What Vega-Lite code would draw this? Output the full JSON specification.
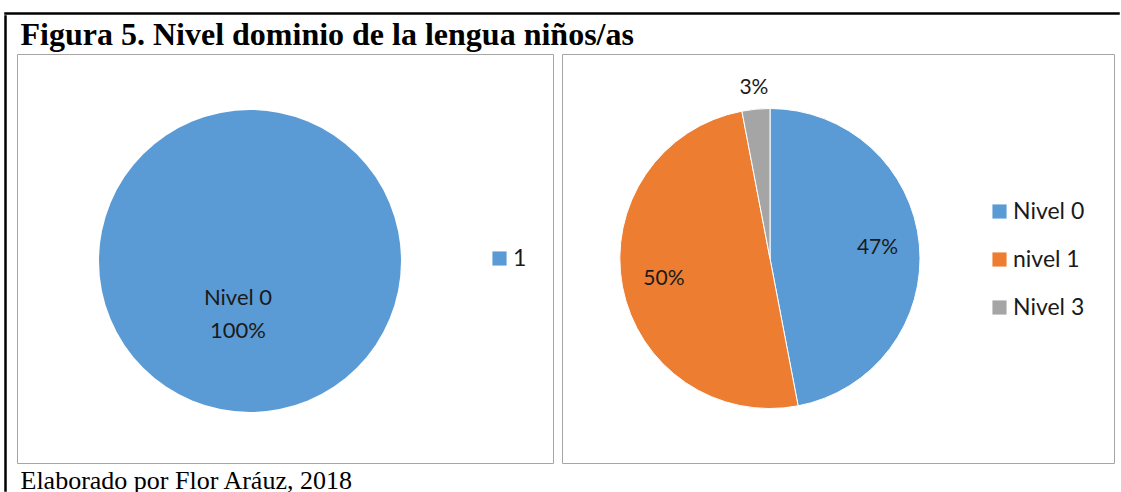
{
  "$schema": "https://vega.github.io/schema/vega-lite/v6.json",
  "padding": {"left": 4, "top": 12, "right": 0, "bottom": 0},
  "background": "white",
  "config": {
    "font": "Lato",
    "legend": {
      "title": null, "orient": "none", "padding": 0,
      "symbolType": "square", "symbolSize": 200, "symbolStrokeWidth": 0,
      "labelFont": "Lato", "labelFontSize": 23, "labelColor": "#1a1a1a",
      "labelOffset": 2, "rowPadding": 24
    }
  },
  "spacing": 0,
  "vconcat": [
    {
      "width": 1114, "height": 1,
      "data": {"values": []},
      "mark": "point",
      "encoding": {},
      "view": {"stroke": "black", "strokeWidth": 1.5}
    },
    {
      "spacing": 9,
      "hconcat": [
        {
          "width": 1, "height": 475,
          "data": {"values": []},
          "mark": "point",
          "encoding": {},
          "view": {"stroke": "black", "strokeWidth": 1.5}
        },
        {
          "spacing": 0,
          "title": {
            "text": "Elaborado por Flor Aráuz, 2018", "orient": "bottom", "anchor": "start",
            "font": "Liberation Serif", "fontSize": 26, "fontWeight": "normal",
            "baseline": "top", "offset": 4, "dx": 4, "color": "black"
          },
          "vconcat": [
            {
              "width": 1, "height": 1,
              "data": {"values": []},
              "mark": "point",
              "encoding": {},
              "view": {"stroke": "white", "strokeWidth": 1}
            },
            {
              "spacing": 7,
              "title": {
                "text": "Figura 5. Nivel dominio de la lengua niños/as", "anchor": "start",
                "font": "Liberation Serif", "fontSize": 32, "fontWeight": "bold",
                "offset": 2, "dx": 4, "color": "black"
              },
              "resolve": {"scale": {"color": "independent", "theta": "independent"}, "legend": {"color": "independent"}},
              "hconcat": [
                {
                  "width": 536, "height": 409,
                  "view": {"stroke": "#a6a6a6", "strokeWidth": 1},
                  "data": {"values": [{"serie": "1", "etiqueta": "Nivel 0\n100%", "valor": 100}]},
                  "layer": [
                    {
                      "mark": {"type": "arc", "radius": 151, "x": 233, "y": 207},
                      "encoding": {
                        "theta": {"field": "valor", "type": "quantitative", "stack": true},
                        "color": {
                          "field": "serie", "type": "nominal",
                          "scale": {"domain": ["1"], "range": ["#5B9BD5"]},
                          "legend": {"legendX": 471, "legendY": 193}
                        }
                      }
                    },
                    {
                      "mark": {"type": "text", "radius": 37, "x": 233, "y": 207, "dx": -12, "lineBreak": "\n", "lineHeight": 33, "font": "Lato", "fontSize": 22, "color": "#1a1a1a"},
                      "encoding": {
                        "theta": {"field": "valor", "type": "quantitative", "stack": true},
                        "text": {"field": "etiqueta"}
                      }
                    }
                  ]
                },
                {
                  "width": 552, "height": 409,
                  "view": {"stroke": "#a6a6a6", "strokeWidth": 1},
                  "data": {"values": [
                    {"nivel": "Nivel 0", "orden": 1, "valor": 47, "pct": "47%"},
                    {"nivel": "nivel 1", "orden": 2, "valor": 50, "pct": "50%"},
                    {"nivel": "Nivel 3", "orden": 3, "valor": 3, "pct": "3%"}
                  ]},
                  "encoding": {
                    "theta": {"field": "valor", "type": "quantitative", "stack": true},
                    "order": {"field": "orden", "type": "quantitative"}
                  },
                  "layer": [
                    {
                      "mark": {"type": "arc", "radius": 150, "x": 208, "y": 204.5, "stroke": "white", "strokeWidth": 1},
                      "encoding": {
                        "color": {
                          "field": "nivel", "type": "nominal",
                          "scale": {"domain": ["Nivel 0", "nivel 1", "Nivel 3"], "range": ["#5B9BD5", "#ED7D31", "#A5A5A5"]},
                          "legend": {"legendX": 426, "legendY": 146}
                        }
                      }
                    },
                    {
                      "mark": {"type": "text", "radius": 108, "x": 208, "y": 204.5, "font": "Lato", "fontSize": 21, "color": "#1a1a1a"},
                      "encoding": {
                        "text": {"condition": {"test": "datum.valor >= 10", "field": "pct"}, "value": ""}
                      }
                    },
                    {
                      "mark": {"type": "text", "radius": 171, "x": 208, "y": 204.5, "font": "Lato", "fontSize": 21, "color": "#1a1a1a"},
                      "encoding": {
                        "text": {"condition": {"test": "datum.valor < 10", "field": "pct"}, "value": ""}
                      }
                    }
                  ]
                }
              ]
            }
          ]
        }
      ]
    }
  ]
}
